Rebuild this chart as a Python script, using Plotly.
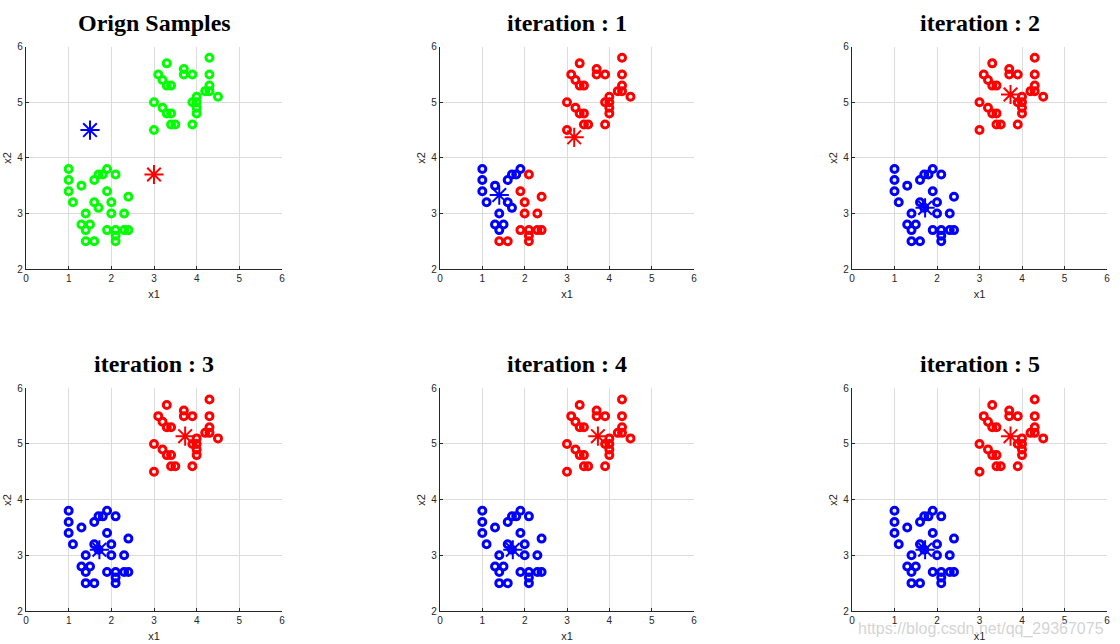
import plotly.graph_objects as go

# ---- data ----
sample_x1 = [1.0, 1.0, 1.0, 1.1, 1.3, 1.4, 1.3, 1.5, 1.4, 1.6, 1.7, 1.8, 1.9, 1.6, 1.7,
             1.4, 1.6, 2.1, 1.9, 2.0, 2.0, 2.3, 2.4, 1.9, 2.1, 2.1, 2.1, 2.3, 2.4,
             3.3, 3.1, 3.2, 3.3, 3.4, 3.7, 3.7, 3.9, 4.3, 4.3, 4.3, 4.3, 4.2, 4.5,
             4.0, 3.9, 4.0, 4.0, 4.0, 3.9, 3.0, 3.2, 3.3, 3.4, 3.4, 3.5, 3.0]
sample_x2 = [3.8, 3.6, 3.4, 3.2, 3.5, 3.0, 2.8, 2.8, 2.7, 3.6, 3.7, 3.7, 3.8, 3.2, 3.1,
             2.5, 2.5, 3.7, 3.4, 3.2, 3.0, 3.0, 3.3, 2.7, 2.7, 2.6, 2.5, 2.7, 2.7,
             5.7, 5.5, 5.4, 5.3, 5.3, 5.6, 5.5, 5.5, 5.8, 5.5, 5.3, 5.2, 5.2, 5.1,
             5.1, 5.0, 5.0, 4.9, 4.8, 4.6, 5.0, 4.9, 4.8, 4.8, 4.6, 4.6, 4.5]

# cluster labels per iteration (0 = blue, 1 = red), as coloured in the picture
labels_iter1 = [0] * 15 + [1] * 14 + [1] * 27
labels_final = [0] * 29 + [1] * 27
iteration_labels = [labels_iter1, labels_final, labels_final, labels_final, labels_final]

# centres: [blue (x1, x2), red (x1, x2)]
initial_centers = [(1.5, 4.5), (3.0, 3.7)]
iteration_centers = [
    [(1.40, 3.33), (3.17, 4.37)],
    [(1.72, 3.10), (3.73, 5.14)],
    [(1.72, 3.10), (3.73, 5.14)],
    [(1.72, 3.10), (3.73, 5.14)],
    [(1.72, 3.10), (3.73, 5.14)],
]
titles = ["Orign Samples", "iteration : 1", "iteration : 2",
          "iteration : 3", "iteration : 4", "iteration : 5"]
x_ticks = [0, 1, 2, 3, 4, 5, 6]
y_ticks = [2, 3, 4, 5, 6]

# ---- styling ----
BLUE = "#0000ff"
RED = "#ff0000"
GREEN = "#00ff00"
W, H = 1120, 644
OFF = 0  # body margin removed by post_script


def px_x(p):
    return (p - OFF) / W


def px_y(p):
    return 1 - (p - OFF) / H


x_domains = [[px_x(26), px_x(282)], [px_x(440), px_x(694)], [px_x(852), px_x(1107)]]
y_domains = [[px_y(269), px_y(46.7)], [px_y(611), px_y(388.3)]]
x2_label_x = [px_x(7), px_x(421), px_x(833)]

fig = go.Figure()


def sample_trace(xs, ys, color, ax):
    return go.Scatter(x=xs, y=ys, mode="markers", xaxis="x" + ax, yaxis="y" + ax,
                      marker=dict(symbol="circle-open", size=7, color=color,
                                  line=dict(width=3, color=color)),
                      showlegend=False, hoverinfo="skip")


def center_trace(cx, cy, color, ax):
    return go.Scatter(x=[cx], y=[cy], mode="markers", xaxis="x" + ax, yaxis="y" + ax,
                      marker=dict(symbol="asterisk-open", size=16, color=color,
                                  line=dict(width=2, color=color)),
                      showlegend=False, hoverinfo="skip")


layout = dict(width=W, height=H, margin=dict(l=0, r=0, t=0, b=0),
              paper_bgcolor="white", plot_bgcolor="white",
              font=dict(family="Liberation Sans, Arial", size=10, color="#262626"))
annotations = []

for i in range(6):
    ax = "" if i == 0 else str(i + 1)
    row, col = divmod(i, 3)
    xd, yd = x_domains[col], y_domains[row]
    axis_common = dict(showgrid=True, gridcolor="#dcdcdc", gridwidth=1,
                       showline=True, linecolor="#262626", linewidth=1.3,
                       ticks="inside", ticklen=3, tickcolor="#262626",
                       zeroline=False, tickfont=dict(size=10, color="#262626"),
                       mirror=False, automargin=False)
    layout["xaxis" + ax] = dict(axis_common, domain=xd, range=[0, 6], tickvals=x_ticks,
                                anchor="y" + ax,
                                title=dict(text="x1", font=dict(size=11), standoff=7))
    layout["yaxis" + ax] = dict(axis_common, domain=yd, range=[2, 6], tickvals=y_ticks,
                                anchor="x" + ax)
    annotations.append(dict(text="x2", xref="paper", yref="paper", x=x2_label_x[col],
                            y=(yd[0] + yd[1]) / 2, xanchor="center", yanchor="middle",
                            textangle=-90, showarrow=False,
                            font=dict(family="Liberation Sans, Arial", size=11,
                                      color="#262626")))
    if i == 0:
        fig.add_trace(sample_trace(sample_x1, sample_x2, GREEN, ax))
        fig.add_trace(center_trace(*initial_centers[0], BLUE, ax))
        fig.add_trace(center_trace(*initial_centers[1], RED, ax))
    else:
        labs = iteration_labels[i - 1]
        for k, colr in enumerate([BLUE, RED]):
            xs = [x for x, l in zip(sample_x1, labs) if l == k]
            ys = [y for y, l in zip(sample_x2, labs) if l == k]
            fig.add_trace(sample_trace(xs, ys, colr, ax))
        for k, colr in enumerate([BLUE, RED]):
            fig.add_trace(center_trace(*iteration_centers[i - 1][k], colr, ax))
    annotations.append(dict(text="<b>" + titles[i] + "</b>", xref="paper", yref="paper",
                            x=(xd[0] + xd[1]) / 2, y=yd[1] + 0.014, xanchor="center",
                            yanchor="bottom", showarrow=False,
                            font=dict(family="Liberation Serif, Times New Roman",
                                      size=24, color="black")))

annotations.append(dict(text="https://blog.csdn.net/qq_29367075", xref="paper", yref="paper",
                        x=px_x(1106), y=px_y(640), xanchor="right", yanchor="bottom",
                        showarrow=False,
                        font=dict(family="Liberation Sans, Arial", size=16,
                                  color="rgba(200,200,200,0.8)")))
layout["annotations"] = annotations
fig.update_layout(**layout)
fig.write_html("out.html", config={"displayModeBar": False},
               post_script="document.body.style.margin='0';document.body.style.overflow='hidden';")
